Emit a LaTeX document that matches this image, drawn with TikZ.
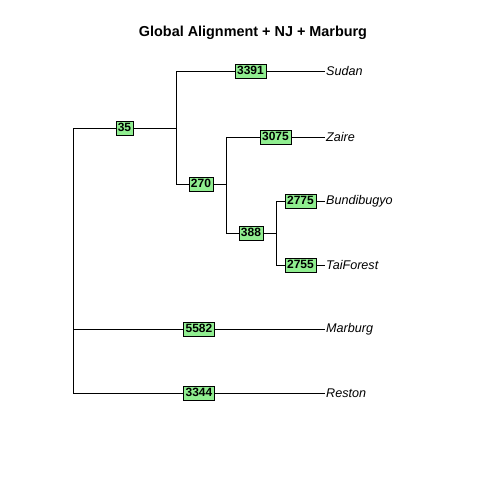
\documentclass[tikz,border=0pt]{standalone}
\usepackage{fontspec}
\setmainfont{Liberation Sans}
\usepackage{tikz}
\usetikzlibrary{positioning}
\definecolor{boxgreen}{HTML}{90EE90}
\newcommand{\rootx}{73}
\newcommand{\tipx}{325}
\newcommand{\labfont}{\fontsize{12}{14}\selectfont}
\newcommand{\tipfont}{\fontsize{12.6}{14}\selectfont}

\begin{document}
\begin{tikzpicture}[x=1pt,y=-1pt,
	edgelab/.style={draw, fill=boxgreen, font=\labfont\bfseries, inner xsep=2pt, inner ysep=1pt, text height=9pt, text depth=2.5pt},
	tiplab/.style={anchor=west, font=\tipfont\itshape, inner sep=1pt}]
	
	\useasboundingbox (0,0) rectangle (480,480);
	%\draw[help lines,step=20] (0,0) grid (480,480);
	\node[font=\bfseries\fontsize{14.4}{16}\selectfont] (title) at (253,33) {Global Alignment + NJ + Marburg};
	% inner nodes
	\coordinate (root) at (\rootx,128);
	\coordinate (n35) at (176,128);
	\coordinate (n270) at (226,184);
	\coordinate (n388) at (276,233);
	% tips
	\node[tiplab] (sudan) at (\tipx,71) {Sudan};
	\node[tiplab] (zaire) at (\tipx,137) {Zaire};
	\node[tiplab] (bundi) at (\tipx,201) {Bundibugyo};
	\node[tiplab] (tai) at (\tipx,265) {TaiForest};
	\node[tiplab] (marburg) at (\tipx,329) {Marburg};
	\node[tiplab] (reston) at (\tipx,393) {Reston};
	% edges
	\draw (root) |- node[pos=0.75,edgelab] (l35) {35} (n35);
	\draw (n35) |- node[pos=0.75,edgelab] (l3391) {3391} (sudan.west);
	\draw (n35) |- node[pos=0.75,edgelab] (l270) {270} (n270);
	\draw (n270) |- node[pos=0.75,edgelab] (l3075) {3075} (zaire.west);
	\draw (n270) |- node[pos=0.75,edgelab] (l388) {388} (n388);
	\draw (n388) |- node[pos=0.75,edgelab] (l2775) {2775} (bundi.west);
	\draw (n388) |- node[pos=0.75,edgelab] (l2755) {2755} (tai.west);
	\draw (root) |- node[pos=0.75,edgelab] (l5582) {5582} (marburg.west);
	\draw (root) |- node[pos=0.75,edgelab] (l3344) {3344} (reston.west);
\end{tikzpicture}
\end{document}
